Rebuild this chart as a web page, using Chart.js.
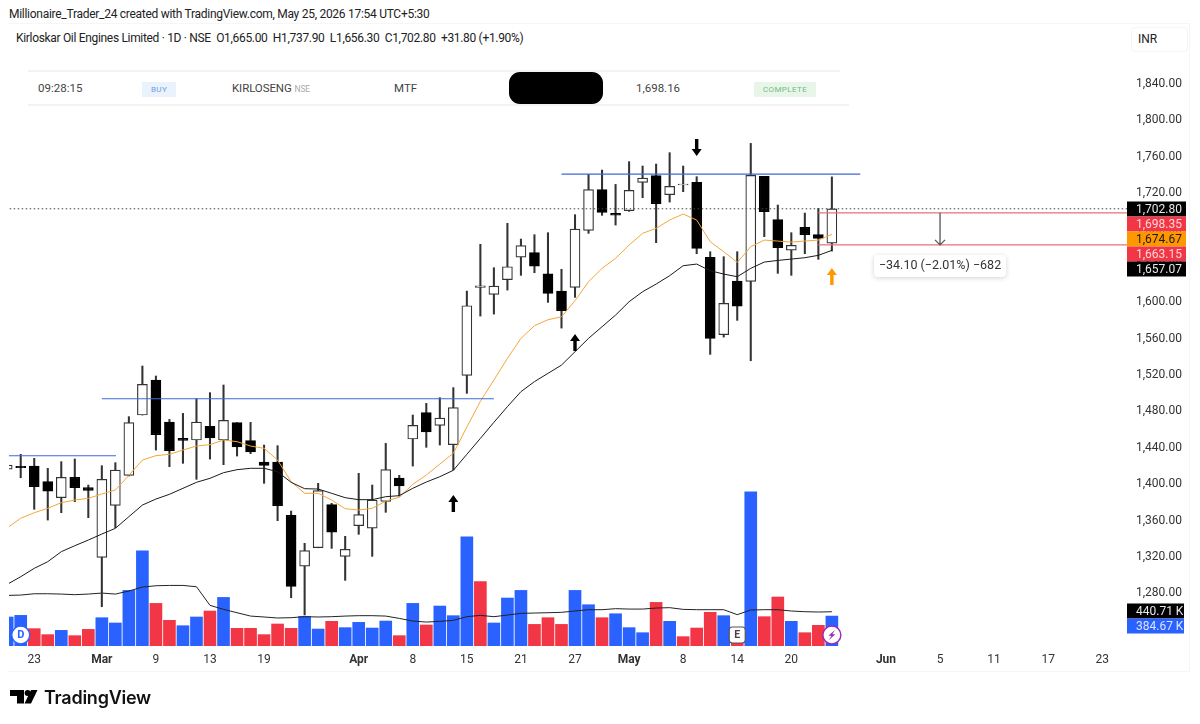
<!DOCTYPE html>
<html lang="en">
<head>
<meta charset="UTF-8">
<title>Kirloskar Oil Engines Limited</title>
<script src="https://cdn.jsdelivr.net/npm/chart.js"></script>
<style>
  html, body { margin: 0; padding: 0; background: #fff; }
  body { width: 1200px; height: 724px; position: relative; overflow: hidden; font-family: Roboto, Arial, sans-serif; color: #222; }
  canvas { position: absolute; left: 0; top: 0; }
  .t { position: absolute; white-space: nowrap; line-height: 16px; }
  .frame { position: absolute; left: 8px; top: 23px; width: 1181px; height: 647px; border: 1px solid #f6f6f6; border-left: 0; }
  .rule { position: absolute; height: 2px; background: #f3f3f3; }
  .badge { position: absolute; top: 82px; height: 15px; line-height: 15px; text-align: center; font-size: 8px; letter-spacing: .4px; }
</style>
</head>
<body>
<div class="frame"></div>
<div class="t" style="left:9px;top:6px;font-size:12px;letter-spacing:-.28px">Millionaire_Trader_24 created with TradingView.com, May 25, 2026 17:54 UTC+5:30</div>
<div class="t" style="left:16px;top:30px;font-size:12px;letter-spacing:-.32px">Kirloskar Oil Engines Limited · 1D · NSE&nbsp; O1,665.00&nbsp; H1,737.90&nbsp; L1,656.30&nbsp; C1,702.80&nbsp; +31.80 (+1.90%)</div>
<div style="position:absolute;left:1131px;top:27px;width:55px;height:23px;border:1px solid #f5f5f5;border-radius:4px"></div>
<div class="t" style="left:1138px;top:31px;font-size:12px">INR</div>

<div class="rule" style="left:28px;top:70px;width:812px"></div>
<div class="rule" style="left:28px;top:104px;width:821px"></div>
<div class="t" style="left:38px;top:80px;font-size:11.5px;color:#444">09:28:15</div>
<div class="badge" style="left:142px;width:34px;background:#eaf2fc;color:#6f9de0">BUY</div>
<div class="t" style="left:232px;top:80px;font-size:11.5px;color:#444;letter-spacing:-.1px">KIRLOSENG <span style="font-size:8.5px;color:#aaa">NSE</span></div>
<div class="t" style="left:394px;top:80px;font-size:11.5px;color:#444">MTF</div>
<div style="position:absolute;left:509px;top:72px;width:94px;height:32px;background:#000;border-radius:11px"></div>
<div class="t" style="left:636px;top:80px;font-size:11.5px;color:#444">1,698.16</div>
<div class="badge" style="left:754px;width:62px;background:#e8f6ea;color:#73ba80">COMPLETE</div>

<canvas id="chart" width="1200" height="724"></canvas>

<svg style="position:absolute;left:10px;top:690px" width="28" height="14" viewBox="0 0 28 14">
  <path d="M0 0H14V13.5H7V6H0Z M21 0H27.5L21 13.5H14.5Z" fill="#000"/>
  <circle cx="17.6" cy="3" r="3" fill="#000"/>
</svg>
<div class="t" style="left:44px;top:688px;font:600 18px/20px Inter,sans-serif;color:#111;letter-spacing:-.25px">TradingView</div>

<script>
// index 0 is the bar cut off at the left edge, index 61 is the last session (25 May)
const open = [1416.5,1419.5,1419.9,1402.7,1385.1,1407.5,1396.1,1319.5,1376.7,1409.7,1476,1514.5,1468.3,1450.3,1448.5,1463.5,1448.5,1467.6,1447.8,1424.3,1424.3,1365.7,1309.9,1330.1,1377.4,1320.6,1354.3,1351.7,1381.1,1406.7,1449.6,1478.6,1464.6,1443.4,1519.6,1616.2,1608.7,1624.8,1649.7,1654.5,1631.4,1612.3,1616.4,1679.1,1723.8,1697.7,1700.7,1731.8,1739.2,1718.3,1729,1731.8,1649.4,1564.3,1623.3,1623,1738.4,1690.8,1657.4,1682.4,1674.3,1665];
const high = [1425,1432.8,1428.4,1417.4,1424.7,1427.6,1399,1420.3,1423.6,1474.2,1529.9,1518.9,1471.2,1477.8,1494,1500.6,1509,1467.6,1467.9,1443,1442.3,1370.4,1334.9,1400.9,1378.9,1342.6,1411.9,1399,1444.8,1409.7,1476,1488.8,1495.1,1506.1,1612.3,1663.7,1638,1686.8,1669.5,1674.3,1676.5,1636.2,1696.3,1740.6,1745.4,1729.6,1754.6,1749.8,1752,1764.5,1749.8,1738.1,1655.6,1650.1,1655.6,1774.7,1738.4,1706.9,1676.5,1698.1,1703.2,1737.9];
const low = [1410,1407,1372.3,1360.5,1368.6,1380.7,1363.1,1265.2,1352.1,1409,1476,1437.5,1419.2,1422.9,1405.3,1427.6,1421.4,1430.9,1433.5,1400.9,1359.8,1275.1,1256.1,1330,1329.4,1294.2,1344.8,1320.6,1369,1386.9,1419.9,1440.5,1443,1415.5,1499.8,1584.8,1587,1613.4,1629.6,1632.5,1599.9,1571.6,1605.4,1675.8,1695.6,1684.9,1700,1715,1665.5,1710.2,1721.6,1653.4,1542.7,1561.7,1580.1,1535.7,1672.1,1631.8,1629.6,1653.4,1647.2,1656.3];
const close = [1421,1418.2,1397.2,1392.4,1407.5,1396.1,1393.2,1405.3,1415.5,1467.6,1509.7,1454.4,1436.8,1448.1,1468.3,1450.7,1470.1,1440.8,1435.3,1420.7,1376.3,1287.6,1326.8,1392.8,1347.3,1328.3,1366.4,1382.5,1415.9,1397.9,1464.6,1457.3,1472.7,1484.1,1596.2,1618,1617.8,1639.1,1662.2,1639.8,1609.8,1590.7,1680.5,1723.8,1698.9,1695.9,1723,1736.6,1708.4,1727.4,1730,1659.3,1560.3,1598.8,1595.8,1739.5,1699.6,1660,1662.6,1674.3,1670.3,1702.8];
const volume = [373,394,223,146,201,133,214,364,296,715,1225,548,330,261,373,450,625,227,227,146,283,227,381,218,317,236,304,231,321,133,548,270,514,390,1405,827,296,617,715,278,364,278,715,531,364,415,236,171,561,317,120,231,433,390,150,1983,377,630,317,171,266,384.67];
const volumeAvg = [651,655,672,672,668,660,668,681,668,707,758,775,779,779,762,523,471,428,385,373,360,364,377,373,377,385,390,390,385,355,321,308,317,330,377,394,377,398,420,424,428,433,450,467,467,480,475,475,488,493,471,467,467,467,403,463,467,467,450,441,437,440.71];
const emaFast = [1352,1362.4,1368.6,1373.4,1379.6,1382.5,1384.4,1389.1,1393.5,1409.7,1426.5,1431.3,1432.8,1437.5,1441.9,1443.4,1448.5,1446.7,1441.9,1439.4,1426.5,1402.7,1389.9,1389.9,1382.5,1373,1371.5,1373.4,1381.4,1385.5,1399.8,1410,1422.1,1433.9,1462.8,1491,1514.5,1538.3,1560.3,1574.2,1580.8,1584,1601.7,1622.6,1637.3,1648.3,1662.9,1675.8,1681.3,1690.4,1697,1690.4,1666.6,1655.6,1643.9,1661.1,1668.4,1667.3,1666.2,1667.3,1668.4,1674.67];
const emaSlow = [1289.8,1298.2,1307.4,1314.7,1325.7,1332.3,1338.5,1345.1,1351.4,1364.2,1377,1383.6,1388.8,1395.4,1402,1406.4,1412.6,1415.9,1417.4,1417.4,1413.7,1402,1395,1394.6,1389.9,1385.1,1382.9,1382.9,1386.2,1387.3,1395.4,1402.3,1408.2,1415.2,1432.8,1450.3,1468,1485.2,1501.7,1512.7,1521.8,1530.9,1545.6,1560.3,1573.1,1585.9,1600.6,1611.6,1620,1629.2,1640.2,1642,1634.7,1631,1628.1,1637.3,1644.2,1646,1647.5,1649,1651.6,1657.07];

const volumeUp = [0,1,4,7,8,9,10,13,14,16,22,23,25,26,27,28,30,32,33,34,36,37,38,42,43,45,46,47,49,53,55,58,61];

const tickIndex = [2,7,11,15,19,26,30,34,38,42,46,50,54,58,65,69,73,77,81];
const tickLabels = ['23','Mar','9','13','19','Apr','8','15','21','27','May','8','14','20','Jun','5','11','17','23'];
const monthTicks = ['Mar','Apr','May','Jun'];
const priceTicks = [1280,1320,1360,1400,1440,1480,1520,1560,1600,1640,1680,1720,1760,1800,1840];

const lastClose = 1702.80;
const stopLevels = [1698.35, 1663.15];
const breakoutLevels = [
  {from: -1, to: 8.05, price: 1431.2},
  {from: 7, to: 36, price: 1493.9},
  {from: 41, to: 63.1, price: 1741}
];
const upArrows = [{i: 33, price: 1388}, {i: 42, price: 1565}];
const downArrows = [{i: 51, price: 1760.8}];
const entryArrow = {i: 61, price: 1637.7};
const measure = {i: 69, label: '\u221234.10 (\u22122.01%) \u2212682'};
const priceTags = [
  {text: '1,702.80', bg: '#000', fg: '#e6e6e6', y: 209},
  {text: '1,698.35', bg: '#f23645', fg: '#ffd7da', y: 224},
  {text: '1,674.67', bg: '#ff9800', fg: '#1a1a1a', y: 239},
  {text: '1,663.15', bg: '#f23645', fg: '#ffd7da', y: 254},
  {text: '1,657.07', bg: '#000', fg: '#e6e6e6', y: 269},
  {text: '440.71 K', bg: '#000', fg: '#e6e6e6', y: 611, w: 57},
  {text: '384.67 K', bg: '#2962ff', fg: '#dbe5ff', y: 626, w: 57}
];

const FONT = 'Roboto, Arial, sans-serif';
const BLUE = '#2962ff', RED = '#f23645', ORANGE = '#f5a53d';

function series(values) { return values.map((y, i) => ({x: i, y: y})); }

function arrow(ctx, x, tip, dir, color) {
  // dir -1 = pointing up, 1 = pointing down; tip is the pixel of the point
  ctx.fillStyle = color;
  ctx.beginPath();
  ctx.moveTo(x, tip);
  ctx.lineTo(x + 5, tip - dir * 7);
  ctx.lineTo(x + 1.7, tip - dir * 7);
  ctx.lineTo(x + 1.7, tip - dir * 17);
  ctx.lineTo(x - 1.7, tip - dir * 17);
  ctx.lineTo(x - 1.7, tip - dir * 7);
  ctx.lineTo(x - 5, tip - dir * 7);
  ctx.closePath();
  ctx.fill();
}

const overlay = {
  id: 'overlay',
  afterDraw(chart) {
    const ctx = chart.ctx, xs = chart.scales.x, ys = chart.scales.y;
    ctx.save();

    upArrows.forEach(a => arrow(ctx, xs.getPixelForValue(a.i), ys.getPixelForValue(a.price), -1, '#000'));
    downArrows.forEach(a => arrow(ctx, xs.getPixelForValue(a.i), ys.getPixelForValue(a.price), 1, '#000'));
    arrow(ctx, xs.getPixelForValue(entryArrow.i), ys.getPixelForValue(entryArrow.price), -1, '#ff9800');

    // risk measure between the two stop levels
    const mx = xs.getPixelForValue(measure.i);
    const my0 = ys.getPixelForValue(stopLevels[0]), my1 = ys.getPixelForValue(stopLevels[1]);
    ctx.strokeStyle = '#555';
    ctx.lineWidth = 1.3;
    ctx.beginPath();
    ctx.moveTo(mx, my0);
    ctx.lineTo(mx, my1);
    ctx.moveTo(mx - 5, my1 - 5);
    ctx.lineTo(mx, my1);
    ctx.lineTo(mx + 5, my1 - 5);
    ctx.stroke();

    ctx.save();
    ctx.shadowColor = 'rgba(0,0,0,.18)';
    ctx.shadowBlur = 5;
    ctx.shadowOffsetY = 1;
    ctx.fillStyle = '#fff';
    ctx.beginPath();
    ctx.roundRect(mx - 66, 255, 132, 22, 4);
    ctx.fill();
    ctx.restore();
    ctx.fillStyle = '#333';
    ctx.font = '12.5px ' + FONT;
    ctx.textAlign = 'center';
    ctx.textBaseline = 'middle';
    ctx.fillText(measure.label, mx, 266);

    // right side value tags
    const left = chart.chartArea.right;
    priceTags.forEach(t => {
      ctx.fillStyle = t.bg;
      ctx.fillRect(left, t.y - 7.5, t.w || 59, 15);
      ctx.fillStyle = t.fg;
      ctx.textAlign = 'left';
      ctx.font = '12px ' + FONT;
      ctx.fillText(t.text, left + 9, t.y + 0.5);
    });

    // marker badges on the volume pane
    const by = 635;
    const dx = xs.getPixelForValue(1);
    ctx.beginPath();
    ctx.arc(dx, by, 9, 0, Math.PI * 2);
    ctx.fillStyle = '#fff';
    ctx.fill();
    ctx.lineWidth = 1.4;
    ctx.strokeStyle = BLUE;
    ctx.stroke();
    ctx.fillStyle = BLUE;
    ctx.font = 'bold 11px ' + FONT;
    ctx.textAlign = 'center';
    ctx.fillText('D', dx, by + 0.5);

    const ex = xs.getPixelForValue(54);
    ctx.beginPath();
    ctx.roundRect(ex - 8, by - 8, 16, 16, 3);
    ctx.fillStyle = '#fff';
    ctx.fill();
    ctx.strokeStyle = '#555';
    ctx.lineWidth = 1.2;
    ctx.stroke();
    ctx.fillStyle = '#444';
    ctx.font = 'bold 10.5px ' + FONT;
    ctx.fillText('E', ex, by + 0.5);

    const sx = xs.getPixelForValue(61);
    ctx.beginPath();
    ctx.arc(sx, by, 9, 0, Math.PI * 2);
    ctx.fillStyle = '#fff';
    ctx.fill();
    ctx.strokeStyle = '#9c27b0';
    ctx.lineWidth = 1.4;
    ctx.stroke();
    ctx.fillStyle = '#9c27b0';
    ctx.beginPath();
    ctx.moveTo(sx + 3, by - 5);
    ctx.lineTo(sx - 3.5, by + 0.8);
    ctx.lineTo(sx - 0.4, by + 0.8);
    ctx.lineTo(sx - 3, by + 5);
    ctx.lineTo(sx + 3.5, by - 0.8);
    ctx.lineTo(sx + 0.4, by - 0.8);
    ctx.closePath();
    ctx.fill();

    ctx.restore();
  }
};

const indexes = open.map((_, i) => i);
const isUp = i => close[i] >= open[i];

const datasets = [
  {
    type: 'bar', yAxisID: 'vol', order: 9, grouped: false, barThickness: 12,
    data: series(volume),
    backgroundColor: indexes.map(i => volumeUp.includes(i) ? BLUE : RED),
    borderWidth: 0
  },
  {
    type: 'line', yAxisID: 'vol', order: 8, data: series(volumeAvg),
    borderColor: '#222', borderWidth: 1, pointRadius: 0, tension: 0
  },
  {
    type: 'bar', yAxisID: 'y', order: 7, grouped: false, barThickness: 1.4,
    data: indexes.map(i => ({x: i, y: [low[i], high[i]]})),
    backgroundColor: '#333', borderWidth: 0
  },
  {
    type: 'bar', yAxisID: 'y', order: 6, grouped: false, barThickness: 10,
    data: indexes.map(i => ({x: i, y: [open[i], close[i]]})),
    backgroundColor: indexes.map(i => isUp(i) ? '#fff' : '#000'),
    borderColor: indexes.map(i => isUp(i) ? '#333' : '#000'),
    borderWidth: 1.2, borderSkipped: false
  },
  {
    type: 'line', yAxisID: 'y', order: 5, data: series(emaFast),
    borderColor: ORANGE, borderWidth: 1, pointRadius: 0, tension: 0
  },
  {
    type: 'line', yAxisID: 'y', order: 4, data: series(emaSlow),
    borderColor: '#1a1a1a', borderWidth: 1, pointRadius: 0, tension: 0
  },
  {
    type: 'line', yAxisID: 'y', order: 3,
    data: [{x: -1, y: lastClose}, {x: 90, y: lastClose}],
    borderColor: '#444', borderWidth: 1, borderDash: [1.5, 2.5], pointRadius: 0
  }
];

breakoutLevels.forEach(l => datasets.push({
  type: 'line', yAxisID: 'y', order: 2,
  data: [{x: l.from, y: l.price}, {x: l.to, y: l.price}],
  borderColor: '#3f68d8', borderWidth: 1.2, pointRadius: 0
}));

stopLevels.forEach(p => datasets.push({
  type: 'line', yAxisID: 'y', order: 2,
  data: [{x: 60, y: p}, {x: 90, y: p}],
  borderColor: '#e8707f', borderWidth: 1.4, pointRadius: 0
}));

new Chart(document.getElementById('chart'), {
  type: 'bar',
  data: {datasets: datasets},
  plugins: [overlay],
  options: {
    responsive: false,
    animation: false,
    events: [],
    layout: {padding: {left: 9, top: 24, right: 0, bottom: 0}},
    plugins: {legend: {display: false}, tooltip: {enabled: false}},
    scales: {
      x: {
        type: 'linear', offset: false,
        min: 0.133, max: 82.83,
        grid: {display: false, drawTicks: false}, border: {display: false},
        afterBuildTicks: scale => { scale.ticks = tickIndex.map(v => ({value: v})); },
        afterFit: scale => { scale.height = 78; scale.paddingLeft = 0; scale.paddingRight = 0; },
        ticks: {
          autoSkip: false, maxRotation: 0, padding: 7, color: '#333',
          font: ctx => ({
            family: FONT, size: 12,
            weight: ctx.tick && monthTicks.includes(tickLabels[tickIndex.indexOf(ctx.tick.value)]) ? 'bold' : 'normal'
          }),
          callback: v => tickLabels[tickIndex.indexOf(v)]
        }
      },
      y: {
        type: 'linear', position: 'right',
        min: 1222, max: 1906,
        grid: {display: false, drawTicks: false}, border: {display: false},
        afterBuildTicks: scale => { scale.ticks = priceTicks.map(v => ({value: v})); },
        afterFit: scale => { scale.width = 73; },
        ticks: {
          padding: 9, color: '#333', font: {family: FONT, size: 12},
          callback: v => v.toLocaleString('en-US', {minimumFractionDigits: 2})
        }
      },
      vol: {
        type: 'linear', display: false, position: 'left',
        min: 0, max: 8000
      }
    }
  }
});
</script>
</body>
</html>
